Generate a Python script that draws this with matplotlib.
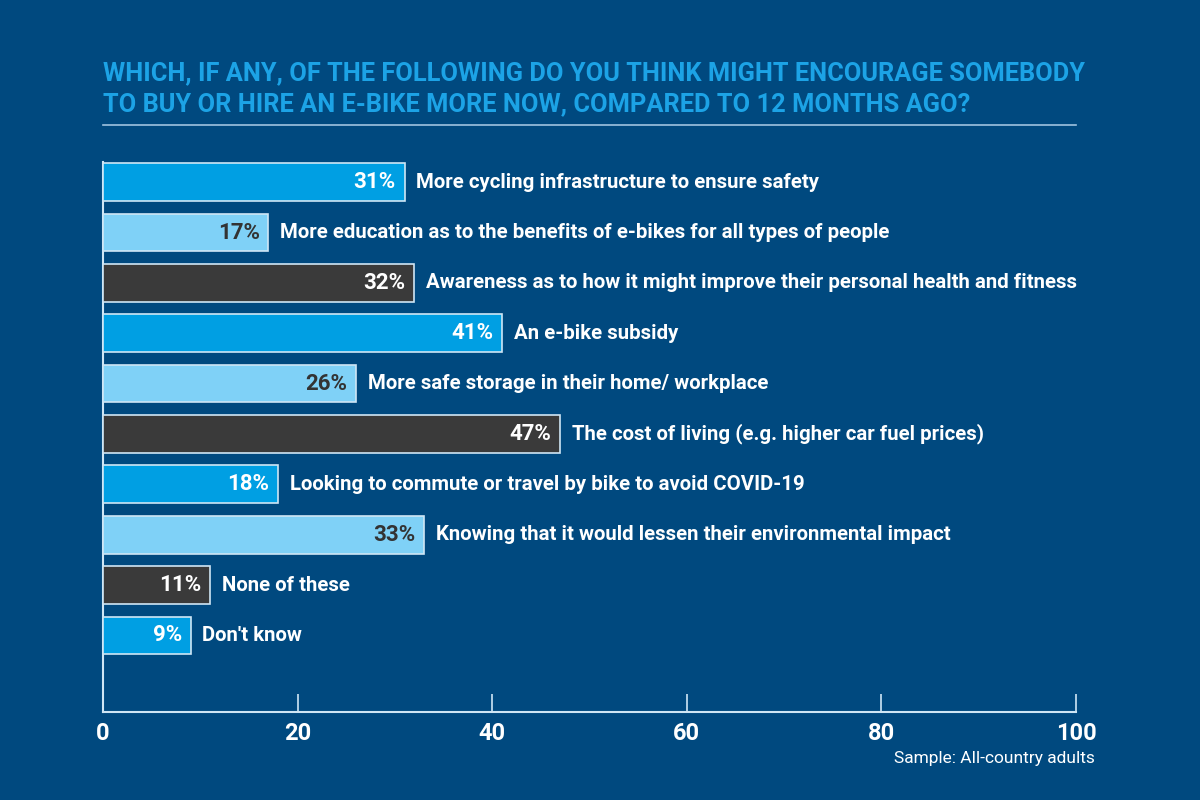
import matplotlib
matplotlib.use("Agg")
import matplotlib.pyplot as plt

categories = [
    "More cycling infrastructure to ensure safety",
    "More education as to the benefits of e-bikes for all types of people",
    "Awareness as to how it might improve their personal health and fitness",
    "An e-bike subsidy",
    "More safe storage in their home/ workplace",
    "The cost of living (e.g. higher car fuel prices)",
    "Looking to commute or travel by bike to avoid COVID-19",
    "Knowing that it would lessen their environmental impact",
    "None of these",
    "Don't know",
]
values = [31, 17, 32, 41, 26, 47, 18, 33, 11, 9]
xticks = [0, 20, 40, 60, 80, 100]

BG = "#00497f"
BRIGHT = "#009fe3"
LIGHT = "#7fd1f7"
DARK = "#3a3a3a"
EDGE = "#cfe6f5"
palette = [BRIGHT, LIGHT, DARK]
bar_colors = [palette[i % 3] for i in range(len(values))]
pct_colors = ["white" if c != LIGHT else "#333333" for c in bar_colors]

plt.rcParams["font.family"] = ["Roboto", "DejaVu Sans"]

fig = plt.figure(figsize=(12, 8), dpi=100, facecolor=BG)
ax = fig.add_axes([0.0858, 0.11, 0.8109, 0.6875])
ax.set_facecolor(BG)

ypos = list(range(len(values)))
ax.barh(ypos, values, height=0.75, color=bar_colors, edgecolor=EDGE, linewidth=1.2, zorder=3)

for y, v, lab, pc in zip(ypos, values, categories, pct_colors):
    ax.text(v - 0.9, y, f"{v}%", ha="right", va="center", color=pc,
            fontsize=16, fontweight="bold", zorder=4)
    ax.text(v + 1.2, y, lab, ha="left", va="center", color="white",
            fontsize=14.7, fontweight="bold", zorder=4)

ax.set_xlim(0, 100)
ax.set_ylim(10.52, -0.4)
ax.set_yticks([])
ax.set_xticks(xticks)
ax.set_xticklabels([str(t) for t in xticks], fontsize=17, fontweight="bold", color="white")
ax.tick_params(axis="x", direction="in", length=13, width=1.2, color=EDGE, pad=7)
for s in ["top", "right"]:
    ax.spines[s].set_visible(False)
for s in ["left", "bottom"]:
    ax.spines[s].set_color(EDGE)
    ax.spines[s].set_linewidth(1.5)

title_color = "#1ca3e6"
fig.text(0.0858, 0.909, "WHICH, IF ANY, OF THE FOLLOWING DO YOU THINK MIGHT ENCOURAGE SOMEBODY",
         color=title_color, fontsize=18.3, fontweight="bold", va="center")
fig.text(0.0858, 0.870, "TO BUY OR HIRE AN E-BIKE MORE NOW, COMPARED TO 12 MONTHS AGO?",
         color=title_color, fontsize=18.3, fontweight="bold", va="center")
fig.add_artist(plt.Line2D([0.0858, 0.8967], [0.844, 0.844], color="#9fc3e0",
                          lw=1.2, transform=fig.transFigure))
fig.text(0.912, 0.052, "Sample: All-country adults", color="white", fontsize=12.5,
         ha="right", va="center")

fig.savefig("out.png", dpi=100, facecolor=BG)
